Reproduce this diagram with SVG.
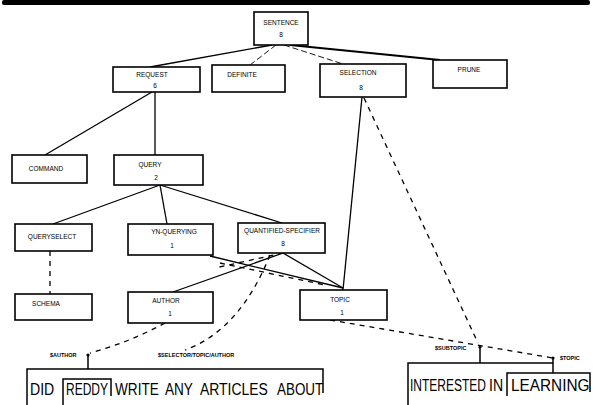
<svg xmlns="http://www.w3.org/2000/svg" width="593" height="405" viewBox="0 0 593 405">
  <style>
    .box { fill: #fff; stroke: #000; stroke-width: 1.6; }
    .lbl { font-family: "Liberation Sans", Arial, sans-serif; font-size: 6.5px; fill: #000; text-anchor: middle; }
    .tag { font-family: "Liberation Sans", Arial, sans-serif; font-size: 5.5px; fill: #000; font-weight: bold; }
    .word { font-family: "Liberation Sans", Arial, sans-serif; font-size: 16px; fill: #000; }
    .edge { fill: none; stroke: #000; stroke-width: 1.3; }
    .thick { fill: none; stroke: #000; stroke-width: 2; }
    .thin { fill: none; stroke: #000; stroke-width: 0.9; stroke-dasharray: 6 3; }
    .dash { fill: none; stroke: #000; stroke-width: 1.3; stroke-dasharray: 5 5; }
    .brk { fill: none; stroke: #000; stroke-width: 1.5; }
  </style>
  <rect width="593" height="405" fill="#fff"/>
  <!-- heavy rule along the top edge -->
  <rect x="2" y="0" width="588" height="5" rx="2" fill="#000"/>

  <g id="connectors">
    <line class="edge" x1="272" y1="45" x2="150" y2="67"/>
    <line class="thin" x1="276" y1="45" x2="250" y2="65"/>
    <line class="thin" x1="284" y1="45" x2="343" y2="64"/>
    <line class="thick" x1="290" y1="45" x2="440" y2="60"/>
    <line class="edge" x1="152" y1="92" x2="45" y2="155"/>
    <line class="edge" x1="155" y1="92" x2="155" y2="155"/>
    <line class="edge" x1="160" y1="185" x2="53" y2="224"/>
    <line class="edge" x1="160" y1="185" x2="167" y2="224"/>
    <line class="edge" x1="160" y1="185" x2="282" y2="223"/>
    <line class="dash" x1="50" y1="251" x2="50" y2="294"/>
    <line class="edge" x1="210" y1="256" x2="343" y2="288"/>
    <line class="edge" x1="283" y1="253" x2="173" y2="292"/>
    <line class="edge" x1="283" y1="253" x2="343" y2="288"/>
    <line class="dash" x1="283" y1="253" x2="215" y2="268"/>
    <line class="dash" x1="220" y1="263" x2="325" y2="285"/>
    <line class="edge" x1="343" y1="290" x2="362" y2="97"/>
    <path class="dash" d="M165,323 Q130,342 90,353"/>
    <path class="dash" d="M270,255 Q240,330 185,350"/>
    <line class="dash" x1="364" y1="98" x2="478" y2="343"/>
    <line class="dash" x1="330" y1="320" x2="553" y2="358"/>
  </g>

  <g id="sentence"><rect class="box" x="254" y="12" width="54" height="33"/><text class="lbl" x="281" y="25">SENTENCE</text><text class="lbl" x="281" y="37">8</text></g>
  <g id="request"><rect class="box" x="113" y="67" width="87" height="25"/><text class="lbl" x="152" y="77">REQUEST</text><text class="lbl" x="155" y="88">6</text></g>
  <g id="definite"><rect class="box" x="212" y="65" width="73" height="27"/><text class="lbl" x="242" y="77">DEFINITE</text></g>
  <g id="selection"><rect class="box" x="320" y="64" width="86" height="33"/><text class="lbl" x="358" y="75">SELECTION</text><text class="lbl" x="361" y="90">8</text></g>
  <g id="prune"><rect class="box" x="433" y="60" width="74" height="28"/><text class="lbl" x="469" y="72">PRUNE</text></g>
  <g id="command"><rect class="box" x="12" y="155" width="75" height="28"/><text class="lbl" x="46" y="171">COMMAND</text></g>
  <g id="query"><rect class="box" x="114" y="155" width="89" height="30"/><text class="lbl" x="150" y="167">QUERY</text><text class="lbl" x="156" y="180">2</text></g>
  <g id="queryselect"><rect class="box" x="15" y="224" width="77" height="27"/><text class="lbl" x="52" y="239">QUERYSELECT</text></g>
  <g id="ynquery"><rect class="box" x="128" y="224" width="85" height="31"/><text class="lbl" x="174" y="234">YN-QUERYING</text><text class="lbl" x="172" y="248">1</text></g>
  <g id="quantspec"><rect class="box" x="238" y="223" width="87" height="30"/><text class="lbl" x="282" y="233">QUANTIFIED-SPECIFIER</text><text class="lbl" x="283" y="246">8</text></g>
  <g id="schema"><rect class="box" x="15" y="294" width="77" height="26"/><text class="lbl" x="46" y="306">SCHEMA</text></g>
  <g id="author"><rect class="box" x="128" y="292" width="85" height="31"/><text class="lbl" x="166" y="303">AUTHOR</text><text class="lbl" x="170" y="316">1</text></g>
  <g id="topic"><rect class="box" x="300" y="290" width="87" height="30"/><text class="lbl" x="340" y="302">TOPIC</text><text class="lbl" x="342" y="315">1</text></g>

  <!-- parsed input, with the phrase brackets the slots point into -->
  <g id="input-left">
    <path class="brk" d="M27,405 V369 H323 V393"/>
    <path class="brk" d="M63,405 V379 H111 V396"/>
    <line class="brk" x1="88" y1="355" x2="88" y2="369"/>
    <circle cx="88" cy="355" r="1.6"/>
    <text class="tag" x="50" y="357">$AUTHOR</text>
    <text class="tag" x="158" y="357">$SELECTOR/TOPIC/AUTHOR</text>
    <text class="word" transform="translate(30,395) scale(0.88,1)">DID</text>
    <text class="word" transform="translate(66,395) scale(0.75,1)">REDDY</text>
    <text class="word" transform="translate(115,395) scale(0.85,1)">WRITE</text>
    <text class="word" transform="translate(165,395) scale(0.85,1)">ANY</text>
    <text class="word" transform="translate(200,395) scale(0.87,1)">ARTICLES</text>
    <text class="word" transform="translate(277,395) scale(0.84,1)">ABOUT</text>
  </g>
  <g id="input-right">
    <path class="brk" d="M408,405 V363 H553"/>
    <path class="brk" d="M507,396 V373 H590 V392"/>
    <line class="brk" x1="553" y1="358" x2="553" y2="373"/>
    <line class="brk" x1="480" y1="347" x2="480" y2="363"/>
    <circle cx="553" cy="358" r="1.6"/>
    <circle cx="480" cy="347" r="1.6"/>
    <text class="tag" x="435" y="350">$SUBTOPIC</text>
    <text class="tag" x="560" y="360">$TOPIC</text>
    <text class="word" transform="translate(410,391) scale(0.75,1)">INTERESTED</text>
    <text class="word" transform="translate(489,391) scale(0.88,1)">IN</text>
    <text class="word" transform="translate(511,391) scale(0.96,1)">LEARNING</text>
  </g>
</svg>
